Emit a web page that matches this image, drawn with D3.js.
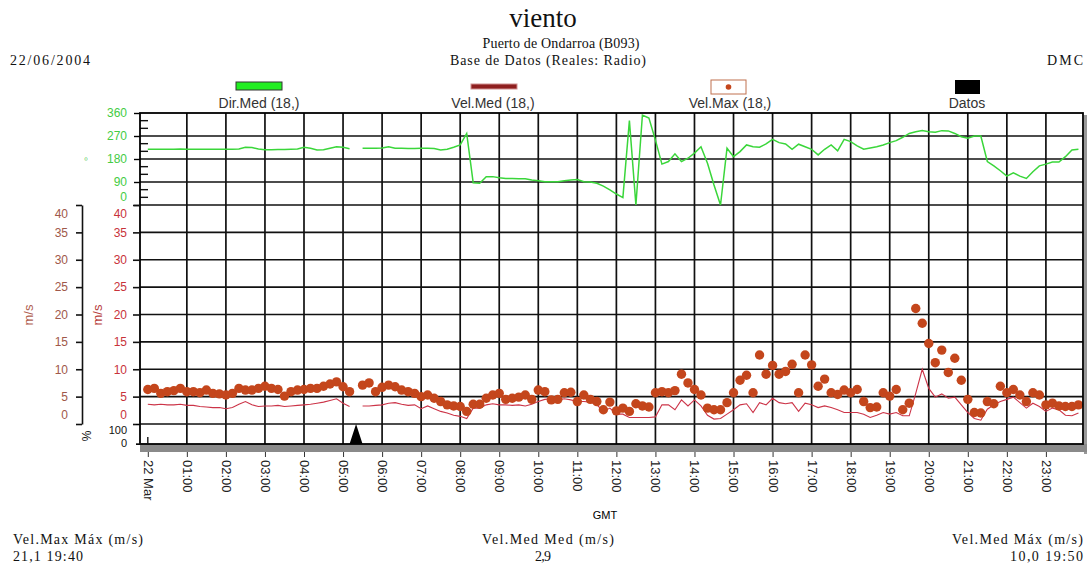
<!DOCTYPE html>
<html>
<head>
<meta charset="utf-8">
<script src="https://cdn.jsdelivr.net/npm/d3@7"></script>
<style>
  body { margin: 0; background: #fff; }
  svg { display: block; }
</style>
</head>
<body>
<svg id="grafico"></svg>
<script>
// etiquetas del eje horario (una por hora)
const etiquetasHora = ['22 Mar', '01:00', '02:00', '03:00', '04:00', '05:00', '06:00', '07:00',
    '08:00', '09:00', '10:00', '11:00', '12:00', '13:00', '14:00', '15:00',
    '16:00', '17:00', '18:00', '19:00', '20:00', '21:00', '22:00', '23:00'];
const pasoMin = 10; // un registro cada 10 minutos, desde las 00:00

// Dir.Med (grados), null = sin dato
const dirMed = [218, 218, 218, 218, 218, 219, 218, 218, 218, 218, 218, 218, 218, 218, 219, 226,
    225, 219, 216, 216, 217, 217, 218, 219, 226, 222, 215, 216, 222, 228, 226, 220,
    null, 222, 222, 222, 223, 228, 222, 222, 221, 221, 222, 222, 221, 215, 218, 226,
    235, 280, 87, 85, 111, 111, 107, 104, 104, 103, 103, 98, 95, 91, 91, 91,
    95, 98, 100, 91, 90, 85, 74, 59, 43, 29, 330, 0, 352, 340, 254, 160,
    170, 200, 170, 183, 203, 228, 163, 78, 0, 222, 189, 209, 235, 228, 226, 239,
    257, 244, 239, 218, 238, 228, 218, 196, 218, 235, 212, 257, 248, 231, 218, 223,
    228, 235, 244, 252, 265, 280, 287, 291, 287, 285, 291, 290, 280, 267, 261, 270,
    270, 170, 153, 134, 113, 126, 113, 104, 130, 153, 160, 168, 168, 189, 215, 218];

// Vel.Med (m/s)
const velMed = [3.6, 3.5, 3.6, 3.5, 3.5, 3.6, 3.4, 3.4, 3.2, 3.1, 3.0, 3.0, 2.8, 3.0, 3.6, 4.1,
    3.5, 3.2, 3.3, 3.3, 3.4, 3.2, 3.3, 3.4, 3.5, 3.6, 3.8, 4.0, 4.3, 4.6, 3.8, 3.2,
    null, 3.3, 3.3, 3.4, 3.5, 3.8, 3.9, 3.6, 3.4, 3.5, 2.8, 3.3, 2.8, 2.3, 2.0, 1.6,
    1.4, 1.0, 2.9, 2.9, 3.5, 3.7, 3.5, 3.5, 3.4, 3.5, 3.3, 3.6, 4.1, 4.5, 4.6, 4.4,
    4.6, 4.4, 4.1, 4.1, 4.0, 3.5, 2.3, 2.9, 1.8, 1.8, 1.2, 1.2, 1.2, 1.2, 1.3, 3.5,
    3.5, 2.6, 4.4, 3.3, 4.4, 3.3, 1.6, 0.9, 1.0, 1.8, 2.6, 3.5, 3.7, 2.1, 3.9, 3.5,
    4.7, 3.9, 3.7, 3.9, 2.3, 3.8, 3.5, 3.0, 3.3, 3.0, 2.6, 2.1, 2.1, 2.1, 1.8, 1.2,
    1.6, 2.1, 1.8, 2.1, 1.5, 1.5, 5.6, 10.0, 6.5, 4.9, 5.5, 4.7, 4.9, 3.5, 2.1, 1.0,
    0.7, 2.7, 3.5, 4.1, 4.5, 4.9, 3.9, 2.9, 3.8, 3.2, 2.3, 2.9, 2.6, 1.6, 1.5, 2.0];

// Vel.Max (m/s)
const velMax = [6.3, 6.5, 5.6, 5.9, 6.1, 6.5, 5.9, 5.9, 5.7, 6.2, 5.6, 5.5, 5.3, 5.6, 6.5, 6.2,
    6.2, 6.5, 6.9, 6.5, 6.3, 5.1, 5.9, 6.2, 6.3, 6.5, 6.5, 6.9, 7.3, 7.7, 6.8, 5.9,
    null, 7.1, 7.5, 5.9, 6.7, 7.1, 6.8, 6.2, 5.9, 5.6, 5.0, 5.3, 4.7, 4.1, 3.5, 3.3,
    3.2, 2.3, 3.6, 3.6, 4.7, 5.3, 5.6, 4.5, 4.7, 4.9, 5.3, 4.5, 6.2, 5.9, 4.4, 4.5,
    5.7, 5.8, 4.1, 5.3, 4.5, 4.1, 2.6, 4.0, 2.4, 2.9, 2.3, 3.7, 3.3, 3.1, 5.7, 5.9,
    5.7, 6.1, 9.1, 7.5, 6.3, 5.3, 2.9, 2.6, 2.6, 3.9, 5.7, 8.0, 8.9, 5.7, 12.6, 9.1,
    10.7, 9.1, 9.6, 10.9, 5.7, 12.6, 10.8, 6.9, 8.2, 5.7, 5.4, 6.2, 5.7, 6.3, 4.1, 3.0,
    3.1, 5.7, 5.1, 6.3, 2.6, 3.8, 21.1, 18.4, 14.7, 11.2, 13.5, 9.4, 12.0, 8.0, 4.5, 2.1,
    2.0, 4.1, 3.7, 6.9, 5.7, 6.3, 5.3, 4.1, 5.7, 5.3, 3.5, 3.8, 3.3, 3.2, 3.2, 3.5];

// Datos (% de registros ausentes)
const datos = [0, 0, 0, 0, 0, 0, 0, 0, 0, 0, 0, 0, 0, 0, 0, 0,
    0, 0, 0, 0, 0, 0, 0, 0, 0, 0, 0, 0, 0, 0, 0, 0,
    100, 0, 0, 0, 0, 0, 0, 0, 0, 0, 0, 0, 0, 0, 0, 0,
    0, 0, 0, 0, 0, 0, 0, 0, 0, 0, 0, 0, 0, 0, 0, 0,
    0, 0, 0, 0, 0, 0, 0, 0, 0, 0, 0, 0, 0, 0, 0, 0,
    0, 0, 0, 0, 0, 0, 0, 0, 0, 0, 0, 0, 0, 0, 0, 0,
    0, 0, 0, 0, 0, 0, 0, 0, 0, 0, 0, 0, 0, 0, 0, 0,
    0, 0, 0, 0, 0, 0, 0, 0, 0, 0, 0, 0, 0, 0, 0, 0,
    0, 0, 0, 0, 0, 0, 0, 0, 0, 0, 0, 0, 0, 0, 0, 0];

const ticksDir = [0, 90, 180, 270, 360];
const ticksDirMenor = [30, 60, 120, 150, 210, 240, 300, 330];
const ticksVel = [0, 5, 10, 15, 20, 25, 30, 35, 40];
const ticksPct = [0, 100];

const width = 1087, height = 566;
const plot = { left: 140, right: 1083, top: 113, bottom: 444 };
const sans = 'Liberation Sans, Arial, sans-serif';
const serif = 'Liberation Serif, Times New Roman, serif';

const hora = i => i * pasoMin / 60;

// escalas
const x = d3.scaleLinear().domain([-0.2, 23.95]).range([plot.left, plot.right]);
const yDir = d3.scaleLinear().domain([0, 360]).range([205, plot.top]);
const yVel = d3.scaleLinear().domain([0, 40]).range([424, 205]);
const yPct = d3.scaleLinear().domain([0, 100]).range([plot.bottom, 424]);

const svg = d3.select('#grafico').attr('width', width).attr('height', height)
    .style('font-family', sans);

// texto con serifa ajustado al ancho del original
function textoSerif(g, xPos, yPos, anchor, size, ancho, texto) {
    const t = g.append('text').attr('x', xPos).attr('y', yPos).attr('text-anchor', anchor)
        .style('font-family', serif).style('font-size', size + 'px').attr('fill', '#111').text(texto);
    if (ancho) t.attr('textLength', ancho).attr('lengthAdjust', 'spacing');
    return t;
}

// cabecera
textoSerif(svg, 543, 27, 'middle', 27, null, 'viento');
textoSerif(svg, 561, 48, 'middle', 14, 157, 'Puerto de Ondarroa (B093)');
textoSerif(svg, 548, 65, 'middle', 14, 196, 'Base de Datos (Reales: Radio)');
textoSerif(svg, 10, 65, 'start', 14, 80, '22/06/2004');
textoSerif(svg, plot.right, 65, 'end', 14, 36, 'DMC');

// leyenda
const leyenda = svg.append('g').style('font-size', '14px').style('fill', '#333');
leyenda.append('rect').attr('x', 236).attr('y', 82).attr('width', 46).attr('height', 8)
    .attr('fill', '#22ee22').attr('stroke', '#333');
leyenda.append('text').attr('x', 259).attr('y', 108).attr('text-anchor', 'middle').text('Dir.Med (18,)');
leyenda.append('rect').attr('x', 471).attr('y', 84).attr('width', 46).attr('height', 5)
    .attr('fill', '#8e1f1f').attr('stroke', '#d09090');
leyenda.append('text').attr('x', 493).attr('y', 108).attr('text-anchor', 'middle').text('Vel.Med (18,)');
leyenda.append('rect').attr('x', 711).attr('y', 80).attr('width', 35).attr('height', 14)
    .attr('fill', '#fff').attr('stroke', '#c0704f');
leyenda.append('circle').attr('cx', 728.5).attr('cy', 87).attr('r', 2.8).attr('fill', '#c4461c');
leyenda.append('text').attr('x', 730).attr('y', 108).attr('text-anchor', 'middle').text('Vel.Max (18,)');
leyenda.append('rect').attr('x', 955).attr('y', 80).attr('width', 25).attr('height', 14).attr('fill', '#000');
leyenda.append('text').attr('x', 967).attr('y', 108).attr('text-anchor', 'middle').text('Datos');

// sombra y banda gris inferior
svg.append('rect').attr('x', plot.right + 1).attr('y', plot.top + 2).attr('width', 3)
    .attr('height', plot.bottom - plot.top + 8).attr('fill', '#999');
svg.append('rect').attr('x', plot.left).attr('y', plot.bottom).attr('width', plot.right - plot.left + 4)
    .attr('height', 8).attr('fill', '#8a8a8a');

// rejilla
const rejilla = svg.append('g').attr('stroke', '#111').attr('stroke-width', 1.7);
rejilla.selectAll('.v').data(d3.range(1, 24)).enter().append('line')
    .attr('x1', d => x(d)).attr('x2', d => x(d)).attr('y1', plot.top).attr('y2', plot.bottom);
rejilla.selectAll('.hd').data([90, 180, 270]).enter().append('line')
    .attr('x1', plot.left).attr('x2', plot.right).attr('y1', d => yDir(d)).attr('y2', d => yDir(d));
rejilla.selectAll('.hv').data(ticksVel).enter().append('line')
    .attr('x1', plot.left).attr('x2', plot.right).attr('y1', d => yVel(d)).attr('y2', d => yVel(d));

// marcas menores de dirección dentro del gráfico
svg.append('g').attr('stroke', '#111').attr('stroke-width', 1.4)
    .selectAll('line').data(ticksDirMenor).enter().append('line')
    .attr('x1', plot.left).attr('x2', plot.left + 8).attr('y1', d => yDir(d)).attr('y2', d => yDir(d));

// Datos (área negra)
svg.append('path').datum(datos)
    .attr('fill', '#000')
    .attr('d', d3.area().x((d, i) => x(hora(i))).y0(yPct(0)).y1(d => yPct(d)));

// Dir.Med
svg.append('path').datum(dirMed)
    .attr('fill', 'none').attr('stroke', '#3ad63a').attr('stroke-width', 1.5)
    .attr('d', d3.line().defined(d => d != null).x((d, i) => x(hora(i))).y(d => yDir(d)));

// Vel.Med
svg.append('path').datum(velMed)
    .attr('fill', 'none').attr('stroke', '#cc3448').attr('stroke-width', 1.1)
    .attr('d', d3.line().defined(d => d != null).x((d, i) => x(hora(i))).y(d => yVel(d)));

// Vel.Max (puntos)
svg.append('g').attr('fill', '#c4461c')
    .selectAll('circle').data(velMax.map((v, i) => [i, v]).filter(d => d[1] != null))
    .enter().append('circle')
    .attr('cx', d => x(hora(d[0]))).attr('cy', d => yVel(d[1])).attr('r', 4.7);

// marco
svg.append('rect').attr('x', plot.left).attr('y', plot.top)
    .attr('width', plot.right - plot.left).attr('height', plot.bottom - plot.top)
    .attr('fill', 'none').attr('stroke', '#000').attr('stroke-width', 1.8);

// eje de tiempo
const ejeX = svg.append('g').attr('transform', `translate(0,${plot.bottom + 8})`)
    .call(d3.axisBottom(x).tickValues(d3.range(0, 24)).tickFormat(d => etiquetasHora[d]).tickSize(5));
ejeX.select('.domain').remove();
ejeX.selectAll('line').attr('stroke', '#333');
ejeX.selectAll('text')
    .attr('y', 0).attr('x', 8).attr('dy', '0.35em')
    .attr('transform', 'rotate(90)')
    .style('text-anchor', 'start').style('font-size', '13px').style('font-family', sans).attr('fill', '#222');
svg.append('text').attr('x', 605).attr('y', 519).attr('text-anchor', 'middle')
    .style('font-size', '11px').text('GMT');

// eje de dirección
const ejeDir = svg.append('g').attr('transform', `translate(${plot.left},0)`)
    .call(d3.axisLeft(yDir).tickValues(ticksDir).tickSize(6).tickPadding(7));
ejeDir.select('.domain').remove();
ejeDir.selectAll('line').attr('stroke-width', 1.4);
ejeDir.selectAll('text').attr('fill', '#44cc44').style('font-size', '12px').style('font-family', sans)
    .attr('dy', d => d === 0 ? '-0.4em' : '0.32em');
svg.append('text').attr('x', 86).attr('y', 163).attr('text-anchor', 'middle')
    .attr('fill', '#66cc66').style('font-size', '8px').text('º');

// ejes de velocidad (interior y exterior)
function ejeVelocidad(xPos, color, tam, pad, dominio) {
    const g = svg.append('g').attr('transform', `translate(${xPos},0)`)
        .call(d3.axisLeft(yVel).tickValues(ticksVel).tickSize(tam).tickPadding(pad).tickSizeOuter(0));
    if (!dominio) g.select('.domain').remove();
    g.selectAll('path, line').attr('stroke', '#111').attr('stroke-width', 1.6);
    g.selectAll('text').attr('fill', color).style('font-size', '12px').style('font-family', sans)
        .attr('dy', d => d === 0 ? '-0.5em' : (d === 40 ? '1.0em' : '0.32em'));
    return g;
}
ejeVelocidad(plot.left, '#c8323a', 7, 6, false);
ejeVelocidad(82, '#a0584a', 6, 8, true);
svg.append('text').attr('transform', 'translate(102,315) rotate(-90)').attr('text-anchor', 'middle')
    .attr('fill', '#b8403c').style('font-size', '13px').text('m/s');
svg.append('text').attr('transform', 'translate(33,315) rotate(-90)').attr('text-anchor', 'middle')
    .attr('fill', '#b06050').style('font-size', '13px').text('m/s');

// eje de Datos (%)
const ejePct = svg.append('g').attr('transform', `translate(${plot.left},0)`)
    .call(d3.axisLeft(yPct).tickValues(ticksPct).tickSize(4).tickPadding(9));
ejePct.select('.domain').remove();
ejePct.selectAll('text').attr('fill', '#111').style('font-size', '11px').style('font-family', sans)
    .attr('y', d => d === 100 ? 6 : -1).attr('dy', '0.32em');
svg.append('line').attr('x1', x(0)).attr('x2', x(0)).attr('y1', yPct(35)).attr('y2', yPct(0))
    .attr('stroke', '#111').attr('stroke-width', 1.4);
svg.append('line').attr('x1', plot.left - 4).attr('x2', x(0)).attr('y1', yPct(0)).attr('y2', yPct(0))
    .attr('stroke', '#111').attr('stroke-width', 1.4);
svg.append('text').attr('transform', 'translate(91,436) rotate(-90)').attr('text-anchor', 'middle')
    .attr('fill', '#111').style('font-size', '12px').text('%');

// pie: resúmenes
textoSerif(svg, 13, 544, 'start', 14, 130, 'Vel.Max Máx (m/s)');
textoSerif(svg, 13, 561, 'start', 14, 70, '21,1 19:40');
textoSerif(svg, 548, 544, 'middle', 14, 132, 'Vel.Med Med (m/s)');
textoSerif(svg, 543, 561, 'middle', 14, 16, '2,9');
textoSerif(svg, plot.right, 544, 'end', 14, 131, 'Vel.Med Máx (m/s)');
textoSerif(svg, plot.right, 561, 'end', 14, 73, '10,0 19:50');
</script>
</body>
</html>
